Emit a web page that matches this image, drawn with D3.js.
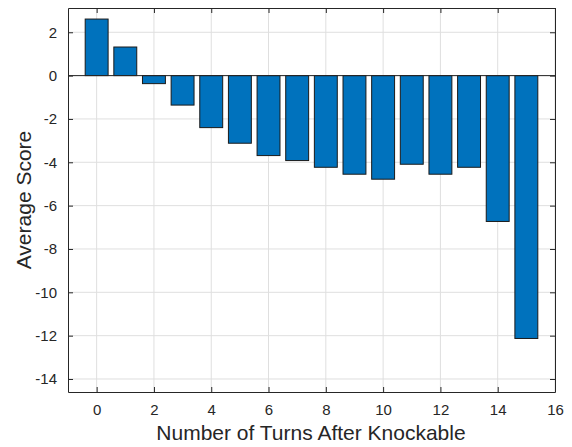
<!DOCTYPE html>
<html>
<head>
<meta charset="utf-8">
<script src="https://cdn.jsdelivr.net/npm/d3@7"></script>
<style>
  body { margin: 0; background: #fff; }
  svg { font-family: "Liberation Sans", Arial, sans-serif; }
</style>
</head>
<body>
<svg id="chart" width="572" height="447"></svg>
<script>
// data
const turns = [0, 1, 2, 3, 4, 5, 6, 7, 8, 9, 10, 11, 12, 13, 14, 15];
const scores = [2.61, 1.32, -0.37, -1.36, -2.40, -3.12, -3.69, -3.92,
                -4.23, -4.55, -4.78, -4.09, -4.55, -4.23, -6.73, -12.13];
const xTicks = [0, 2, 4, 6, 8, 10, 12, 14, 16];
const yTicks = [2, 0, -2, -4, -6, -8, -10, -12, -14];

const margin = {top: 8, right: 17, bottom: 55, left: 68};
const width = 572, height = 447;
const w = width - margin.left - margin.right;
const h = height - margin.top - margin.bottom;

const svg = d3.select('#chart');
const main = svg.append('g')
  .attr('transform', `translate(${margin.left}, ${margin.top})`);

const xScale = d3.scaleLinear().domain([-1, 16]).range([0, w]);
const yScale = d3.scaleLinear().domain([-14.6, 3.12]).range([h, 0]);

const axisColor = '#262626';
const tickLen = 5;
const fmt = d => String(d); // plain hyphen minus like matlab

// grid
main.append('g').selectAll('line.vg')
  .data(xTicks)
  .join('line')
  .attr('x1', d => xScale(d)).attr('x2', d => xScale(d))
  .attr('y1', 0).attr('y2', h)
  .attr('stroke', '#dfdfdf').attr('stroke-width', 1);
main.append('g').selectAll('line.hg')
  .data(yTicks)
  .join('line')
  .attr('y1', d => yScale(d)).attr('y2', d => yScale(d))
  .attr('x1', 0).attr('x2', w)
  .attr('stroke', '#dfdfdf').attr('stroke-width', 1);

// bars
const bw = xScale(0.8) - xScale(0);
main.selectAll('rect.bar')
  .data(turns)
  .join('rect')
  .attr('class', 'bar')
  .attr('x', (d) => xScale(d - 0.4))
  .attr('width', bw)
  .attr('y', (d, i) => yScale(Math.max(0, scores[i])))
  .attr('height', (d, i) => Math.abs(yScale(scores[i]) - yScale(0)))
  .attr('fill', '#0072BD')
  .attr('stroke', '#1a1a1a')
  .attr('stroke-width', 1);

// baseline
main.append('line')
  .attr('x1', 0).attr('x2', w)
  .attr('y1', yScale(0)).attr('y2', yScale(0))
  .attr('stroke', axisColor).attr('stroke-width', 1);

// axes (ticks inward, box on)
const xAxis = main.append('g').attr('transform', `translate(0, ${h})`)
  .call(d3.axisBottom(xScale).tickValues(xTicks).tickFormat(fmt)
    .tickSizeInner(-tickLen).tickSizeOuter(0).tickPadding(12));
const yAxis = main.append('g')
  .call(d3.axisLeft(yScale).tickValues(yTicks).tickFormat(fmt)
    .tickSizeInner(-tickLen).tickSizeOuter(0).tickPadding(11));
const xTop = main.append('g')
  .call(d3.axisTop(xScale).tickValues(xTicks).tickSizeInner(-tickLen).tickSizeOuter(0).tickFormat(''));
const yRight = main.append('g').attr('transform', `translate(${w}, 0)`)
  .call(d3.axisRight(yScale).tickValues(yTicks).tickSizeInner(-tickLen).tickSizeOuter(0).tickFormat(''));

[xAxis, yAxis, xTop, yRight].forEach(g => {
  g.select('.domain').attr('stroke', axisColor);
  g.selectAll('line').attr('stroke', axisColor);
  g.selectAll('text')
    .attr('fill', axisColor)
    .style('font-size', '15px')
    .style('font-family', '"Liberation Sans", Arial, sans-serif');
});

// labels
svg.append('text')
  .attr('x', 311)
  .attr('y', 440)
  .attr('text-anchor', 'middle')
  .attr('fill', axisColor)
  .style('font-size', '21px')
  .text('Number of Turns After Knockable');

svg.append('text')
  .attr('transform', `translate(31, 200) rotate(-90)`)
  .attr('text-anchor', 'middle')
  .attr('fill', axisColor)
  .style('font-size', '21px')
  .text('Average Score');
</script>
</body>
</html>
